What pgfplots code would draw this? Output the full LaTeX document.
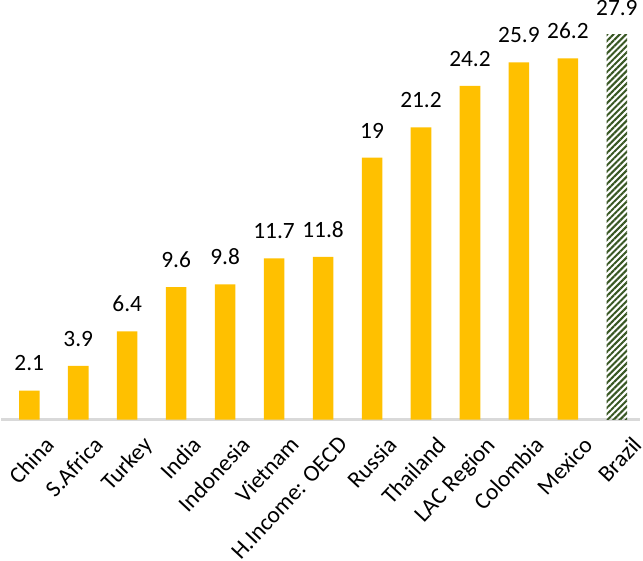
\documentclass[border=0pt]{standalone}
\usepackage{pgfplots}
\pgfplotsset{compat=1.18}
\usepackage{fontspec}
\setmainfont{Carlito}
\usetikzlibrary{patterns.meta}
\definecolor{gold}{RGB}{255,192,0}
\definecolor{darkgreen}{RGB}{56,87,35}
\definecolor{axisgray}{RGB}{217,217,217}

\begin{document}
\begin{tikzpicture}
\begin{axis}[
    scale only axis,
    width=465pt, height=280pt,
    xmin=-0.57, xmax=12.48,
    ymin=0, ymax=27.9,
    clip=false,
    axis y line=none,
    axis x line=bottom,
    x axis line style={draw=axisgray, line width=2pt, -},
    xtick={0,...,12},
    major tick length=0pt,
    xticklabels={China,S.Africa,Turkey,India,Indonesia,Vietnam,H.Income: OECD,Russia,Thailand,LAC Region,Colombia,Mexico,Brazil},
    xticklabel style={rotate=47, anchor=north east, font=\fontsize{17}{19}\selectfont, inner sep=0pt, yshift=-15pt, xshift=-1pt},
    ybar, bar width=0.42, bar shift=0pt,
    nodes near coords,
    every node near coord/.append style={font=\fontsize{17}{19}\selectfont, anchor=south, inner sep=0pt, yshift=14pt, text=black},
    point meta=explicit symbolic,
]
\addplot[fill=gold, draw=none] coordinates {
    (0,2.1) [2.1] (1,3.9) [3.9] (2,6.4) [6.4] (3,9.6) [9.6] (4,9.8) [9.8]
    (5,11.7) [11.7] (6,11.8) [11.8] (7,19) [19] (8,21.2) [21.2]
    (9,24.2) [24.2] (10,25.9) [25.9] (11,26.2) [26.2]
};
\addplot[draw=none, pattern={Lines[angle=45, distance=3.2pt, line width=1.5pt]}, pattern color=darkgreen] coordinates {
    (12,27.9) [27.9]
};
\end{axis}
\end{tikzpicture}
\end{document}
